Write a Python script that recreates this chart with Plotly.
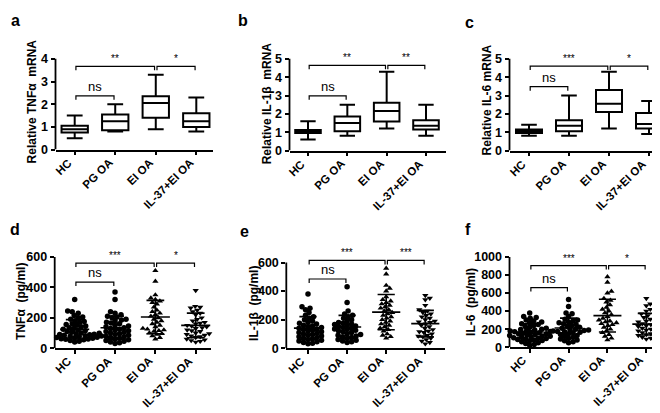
import numpy as np
import plotly.graph_objects as go

W, H = 660, 413
FONT = "Liberation Sans, Arial, sans-serif"

categories = ["HC", "PG OA", "EI OA", "IL-37+EI OA"]

# ---- Box plot stats (panels a-c): min, q1, median, q3, max per group ----
a_min = [0.5, 0.8, 0.9, 0.8]
a_q1 = [0.75, 0.85, 1.4, 1.0]
a_med = [0.9, 1.25, 2.05, 1.25]
a_q3 = [1.05, 1.55, 2.35, 1.6]
a_max = [1.5, 2.0, 3.3, 2.3]

b_min = [0.6, 0.8, 1.2, 0.8]
b_q1 = [0.95, 1.05, 1.58, 1.15]
b_med = [1.02, 1.5, 2.15, 1.35]
b_q3 = [1.12, 1.85, 2.6, 1.65]
b_max = [1.6, 2.5, 4.3, 2.5]

c_min = [0.8, 0.8, 1.2, 0.9]
c_q1 = [0.95, 1.05, 2.1, 1.2]
c_med = [1.05, 1.35, 2.55, 1.45]
c_q3 = [1.15, 1.65, 3.3, 2.05]
c_max = [1.4, 3.0, 4.3, 2.7]

# ---- Dot plot values (panels d-f) ----
d_hc = [320, 245, 240, 230, 215, 205, 200, 190, 180, 175, 170, 160, 155, 150, 145,
        140, 135, 130, 125, 120, 115, 110, 105, 100, 98, 95, 92, 90, 88, 85, 82, 80,
        78, 75, 72, 70, 68, 65, 62, 60, 58, 55, 50, 45, 40]
d_pg = [370, 320, 240, 230, 220, 210, 205, 200, 190, 185, 180, 170, 165, 160, 150,
        145, 140, 135, 130, 125, 120, 115, 110, 105, 100, 95, 90, 85, 80, 78, 75, 70,
        65, 60, 55, 50, 45, 40, 35, 30]
d_ei = [510, 440, 350, 330, 320, 310, 300, 290, 270, 250, 240, 230, 220, 210, 200,
        190, 180, 170, 160, 150, 140, 130, 125, 120, 115, 110, 100, 95, 90, 80, 70, 60]
d_il = [380, 275, 270, 265, 250, 240, 230, 220, 200, 190, 180, 170, 165, 160, 150,
        145, 140, 135, 130, 120, 115, 110, 100, 95, 90, 85, 80, 75, 70, 60, 55, 50, 45, 40]

e_hc = [380, 290, 280, 270, 250, 230, 220, 210, 200, 190, 180, 175, 170, 160, 155,
        150, 145, 140, 135, 130, 125, 120, 115, 110, 105, 100, 95, 90, 85, 80, 75, 70,
        65, 60, 55, 50, 45, 40, 35, 30]
e_pg = [430, 320, 260, 240, 230, 220, 210, 200, 190, 180, 175, 170, 165, 160, 155,
        150, 145, 140, 135, 130, 125, 120, 115, 110, 100, 95, 90, 85, 80, 75, 70, 60,
        55, 50, 45, 40]
e_ei = [560, 520, 440, 420, 400, 360, 340, 330, 320, 310, 300, 290, 280, 270, 260,
        250, 240, 230, 220, 210, 200, 190, 180, 170, 160, 150, 140, 130, 120, 100, 90, 80, 70]
e_il = [370, 350, 340, 300, 270, 260, 250, 240, 230, 220, 210, 200, 190, 185, 180,
        170, 160, 150, 140, 130, 120, 115, 110, 100, 90, 85, 80, 70, 60, 50, 40, 30]

f_hc = [380, 340, 330, 320, 300, 290, 280, 270, 260, 250, 240, 230, 220, 210, 200,
        195, 190, 185, 180, 175, 170, 165, 160, 155, 150, 145, 140, 135, 130, 125, 120,
        115, 110, 105, 100, 95, 90, 85, 80, 75, 70, 60, 50, 40, 30, 20]
f_pg = [530, 450, 380, 370, 340, 310, 300, 290, 280, 270, 260, 250, 240, 230, 220,
        210, 200, 195, 190, 185, 180, 175, 170, 165, 160, 150, 140, 130, 120, 110, 100,
        90, 80, 70, 60, 50]
f_ei = [780, 720, 620, 600, 540, 520, 500, 470, 440, 420, 400, 380, 360, 340, 320,
        300, 290, 280, 270, 260, 250, 240, 220, 200, 180, 160, 140, 120, 100, 80]
f_il = [540, 480, 460, 420, 400, 370, 350, 330, 310, 290, 280, 270, 260, 250, 240,
        230, 220, 210, 200, 190, 180, 170, 160, 150, 140, 130, 120, 110, 100, 90]

# ---- Axis labels, ticks, significance comparisons ----
y_titles = ["Relative TNFα  mRNA", "Relative IL-1β  mRNA", "Relative IL-6 mRNA",
            "TNFα  (pg/ml)", "IL-1β  (pg/ml)", "IL-6  (pg/ml)"]
panel_letters = ["a", "b", "c", "d", "e", "f"]
y_ticks = [[0, 1, 2, 3, 4], [0, 1, 2, 3, 4, 5], [0, 1, 2, 3, 4, 5],
           [0, 200, 400, 600], [0, 200, 400, 600], [0, 200, 400, 600, 800, 1000]]
comparisons = [(0, 2), (2, 3), (0, 1)]
a_sig = ["**", "*", "ns"]
b_sig = ["**", "**", "ns"]
c_sig = ["***", "*", "ns"]
d_sig = ["***", "*", "ns"]
e_sig = ["***", "***", "ns"]
f_sig = ["***", "*", "ns"]
a_lvl = [3.67, 3.67, 2.37]
b_lvl = [4.64, 4.64, 2.98]
c_lvl = [4.6, 4.6, 3.48]
d_lvl = [560, 560, 435]
e_lvl = [615, 615, 485]
f_lvl = [905, 905, 660]

# ---- Layout geometry (pixels) ----
geom = [
    dict(l=47.5, r=205, c0=66.7, c3=188.3, y0=144, yt=51.7),
    dict(l=281.5, r=437.5, c0=300, c3=418, y0=145, yt=51.7),
    dict(l=501.5, r=658, c0=521, c3=641, y0=145, yt=51.7),
    dict(l=46.7, r=203, c0=66.7, c3=187.7, y0=346, yt=253.3),
    dict(l=278.3, r=437, c0=300, c3=417.3, y0=346, yt=259),
    dict(l=501.5, r=658, c0=521.7, c3=638.3, y0=345, yt=253.3),
]
title_pos = [(24, 95), (259, 97), (479, 93), (13, 299), (246, 301), (463, 299)]
letter_pos = [(1, 2), (228, 2), (455, 4), (0, 215), (230, 217), (455, 215)]

box_stats = [(a_min, a_q1, a_med, a_q3, a_max),
             (b_min, b_q1, b_med, b_q3, b_max),
             (c_min, c_q1, c_med, c_q3, c_max)]
dot_data = [(d_hc, d_pg, d_ei, d_il), (e_hc, e_pg, e_ei, e_il), (f_hc, f_pg, f_ei, f_il)]
sigs = [a_sig, b_sig, c_sig, d_sig, e_sig, f_sig]
lvls = [a_lvl, b_lvl, c_lvl, d_lvl, e_lvl, f_lvl]
symbols = ["circle", "circle", "triangle-up", "triangle-down"]

fig = go.Figure()
layout = dict(width=W, height=H, margin=dict(l=0, r=0, t=0, b=0),
              paper_bgcolor="white", plot_bgcolor="white", showlegend=False)
shapes, annotations = [], []


def swarm(vals, ys, xs, d=4.3, step=0.5):
    vals = np.asarray(vals, float)
    order = np.argsort(vals)
    placed = []
    offs = np.zeros(len(vals))
    for i in order:
        y = vals[i] * ys
        k = 0
        while True:
            cands = [0.0] if k == 0 else [k * step, -k * step]
            found = None
            for c in cands:
                if all((c - px) ** 2 + (y - py) ** 2 >= d * d for px, py in placed):
                    found = c
                    break
            if found is not None:
                offs[i] = found
                break
            k += 1
        placed.append((offs[i], y))
    return offs / xs


for k in range(6):
    g = geom[k]
    n = "" if k == 0 else str(k + 1)
    xa, ya = "x" + n, "y" + n
    ytop = y_ticks[k][-1]
    spacing = (g["c3"] - g["c0"]) / 3.0
    xr = [(g["l"] - g["c0"]) / spacing, (g["r"] - g["c0"]) / spacing]
    yscale = (g["y0"] - g["yt"]) / ytop  # px per unit
    rtop = ytop * 1.13
    dom_top = g["y0"] - rtop * yscale
    layout["xaxis" + n] = dict(
        domain=[g["l"] / W, g["r"] / W], range=xr, anchor=ya,
        tickvals=[0, 1, 2, 3], showticklabels=False,
        showline=True, linecolor="black", linewidth=1.8, ticks="outside",
        ticklen=4, tickwidth=1.6, tickcolor="black", showgrid=False, zeroline=False,
        fixedrange=True)
    layout["yaxis" + n] = dict(
        domain=[1 - g["y0"] / H, 1 - dom_top / H], range=[0, rtop], anchor=xa,
        tickvals=y_ticks[k], ticks="outside", ticklen=4, tickwidth=1.6,
        tickcolor="black", showline=False, showgrid=False, zeroline=False,
        tickfont=dict(family=FONT, size=12.5, color="black", weight="bold"),
        fixedrange=True)
    shapes.append(dict(type="line", xref=xa + " domain", yref=ya, x0=0, x1=0,
                       y0=0, y1=ytop, line=dict(color="black", width=1.8)))

    # rotated category labels
    for ci, cat in enumerate(categories):
        annotations.append(dict(x=ci, y=0, xref=xa, yref=ya + " domain", text=cat,
                                textangle=-45, showarrow=False, xanchor="right",
                                yanchor="top", xshift=2, yshift=-4,
                                font=dict(family=FONT, size=11.5, color="black",
                                          weight="bold")))

    if k < 3:
        mn, q1, md, q3, mx = box_stats[k]
        fig.add_trace(go.Box(x=[0, 1, 2, 3], q1=q1, median=md, q3=q3,
                             lowerfence=mn, upperfence=mx, width=0.65,
                             whiskerwidth=0.6, fillcolor="white",
                             line=dict(color="black", width=2),
                             xaxis=xa, yaxis=ya, hoverinfo="skip"))
    else:
        groups = dot_data[k - 3]
        for gi, vals in enumerate(groups):
            offs = swarm(vals, yscale, spacing)
            fig.add_trace(go.Scatter(
                x=gi + offs, y=vals, mode="markers", xaxis=xa, yaxis=ya,
                marker=dict(symbol=symbols[gi], size=5.5,
                            color="black", line=dict(width=0)),
                cliponaxis=False, hoverinfo="skip"))
        lx, ly = [], []
        for gi, vals in enumerate(groups):
            m = float(np.mean(vals))
            sd = float(np.std(vals, ddof=1))
            lx += [gi - 0.36, gi + 0.36, None, gi, gi, None,
                   gi - 0.22, gi + 0.22, None, gi - 0.22, gi + 0.22, None]
            ly += [m, m, None, m - sd, m + sd, None,
                   m + sd, m + sd, None, m - sd, m - sd, None]
        fig.add_trace(go.Scatter(x=lx, y=ly, mode="lines", xaxis=xa, yaxis=ya,
                                 line=dict(color="black", width=1.6),
                                 hoverinfo="skip"))

    # significance brackets
    drop = 4.0 / yscale
    bx, by = [], []
    for (i, j), lab, lv in zip(comparisons, sigs[k], lvls[k]):
        e = 0.03
        bx += [i + e, i + e, j - e, j - e, None]
        by += [lv - drop, lv, lv, lv - drop, None]
        if lab == "ns":
            annotations.append(dict(x=(i + j) / 2, y=lv, xref=xa, yref=ya, text=lab,
                                    showarrow=False, yanchor="bottom", yshift=0,
                                    font=dict(family=FONT, size=13, color="black")))
        else:
            annotations.append(dict(x=(i + j) / 2, y=lv, xref=xa, yref=ya, text=lab,
                                    showarrow=False, yanchor="bottom", yshift=0,
                                    font=dict(family=FONT, size=10, color="black")))
    fig.add_trace(go.Scatter(x=bx, y=by, mode="lines", xaxis=xa, yaxis=ya,
                             line=dict(color="black", width=1.2), hoverinfo="skip",
                             cliponaxis=False))

    tx, ty = title_pos[k]
    annotations.append(dict(x=tx / W, y=1 - ty / H, xref="paper", yref="paper",
                            text=y_titles[k], textangle=-90, showarrow=False,
                            xanchor="center", yanchor="middle",
                            font=dict(family=FONT, size=12, color="black", weight="bold")))
    lx0, ly0 = letter_pos[k]
    annotations.append(dict(x=lx0 / W, y=1 - ly0 / H, xref="paper", yref="paper",
                            text=panel_letters[k], showarrow=False,
                            xanchor="left", yanchor="top",
                            font=dict(family=FONT, size=16, color="black", weight="bold")))

layout["shapes"] = shapes
layout["annotations"] = annotations
fig.update_layout(**layout)
fig.write_html("out.html")
